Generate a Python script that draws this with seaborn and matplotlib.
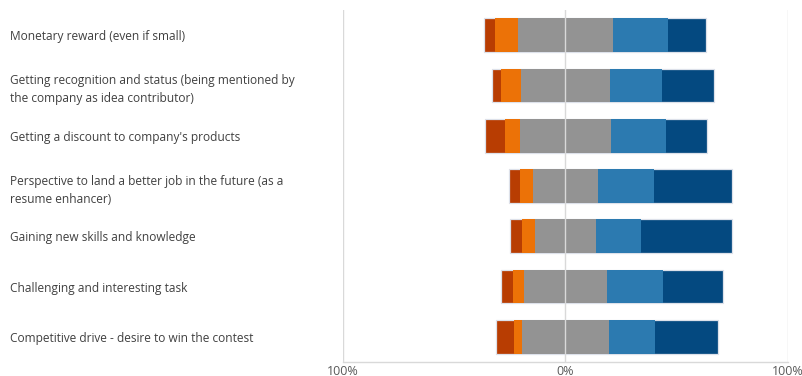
import matplotlib as mpl
mpl.use('Agg')
import matplotlib.pyplot as plt
import numpy as np
import pandas as pd
import seaborn as sns

categories = [
    'Monetary reward (even if small)',
    'Getting recognition and status (being mentioned by\nthe company as idea contributor)',
    "Getting a discount to company's products",
    'Perspective to land a better job in the future (as a\nresume enhancer)',
    'Gaining new skills and knowledge',
    'Challenging and interesting task',
    'Competitive drive - desire to win the contest',
]
strongly_neg = [5.2, 4.1, 8.9, 4.8, 5.4, 5.3, 7.9]
neg = [10.5, 8.9, 6.7, 6.0, 5.5, 4.9, 3.6]
neutral = [42.3, 40.1, 40.9, 28.8, 27.7, 37.3, 39.5]
pos = [25.1, 23.1, 24.6, 25.3, 19.9, 25.3, 20.4]
strongly_pos = [16.8, 23.4, 18.7, 35.2, 41.3, 27.0, 28.3]
tick_values = [-100, 0, 100]
tick_labels = ['100%', '0%', '100%']

colors = {
    'strongly_neg': '#b83d02',
    'neg': '#ec7207',
    'neutral': '#939393',
    'pos': '#2c7ab0',
    'strongly_pos': '#044980',
}

half = np.array(neutral) / 2
df = pd.DataFrame({
    'category': categories,
    'strongly_neg': -(half + np.array(neg) + np.array(strongly_neg)),
    'neg': -(half + np.array(neg)),
    'neutral_l': -half,
    'neutral_r': half,
    'pos': half + np.array(pos),
    'strongly_pos': half + np.array(pos) + np.array(strongly_pos),
})

fig = plt.figure(figsize=(8.03, 3.76), dpi=100)
ax = fig.add_axes([343 / 803, 14 / 376, 445 / 803, 352 / 376])

bw = 0.67
# outer layers first (with light outline), inner layers painted over them
layers = [
    ('strongly_neg', colors['strongly_neg'], '#dde1ea'),
    ('strongly_pos', colors['strongly_pos'], '#dde1ea'),
    ('neg', colors['neg'], 'none'),
    ('pos', colors['pos'], 'none'),
    ('neutral_l', colors['neutral'], 'none'),
    ('neutral_r', colors['neutral'], 'none'),
]
for col, c, ec in layers:
    sns.barplot(data=df, x=col, y='category', order=categories, orient='h',
                color=c, saturation=1, width=bw, edgecolor=ec,
                linewidth=0.9 if ec != 'none' else 0, ax=ax)

for v in tick_values:
    ax.axvline(v, color='#d9d9d9', lw=1, zorder=5)

ax.set_xlim(-100, 100)
ax.set_ylim(6.5, -0.5)
ax.set_xticks(tick_values)
ax.set_xticklabels(tick_labels, fontsize=9, color='#595959', family='Open Sans')
ax.set_yticks(range(len(categories)))
ax.set_yticklabels(categories, ha='left', fontsize=8.6, color='#404040',
                   family='Open Sans', linespacing=1.55)
ax.tick_params(axis='y', length=0, pad=333 * 0.72)
ax.tick_params(axis='x', length=0, pad=2.5)
ax.set_xlabel('')
ax.set_ylabel('')
for s in ['top', 'left', 'right']:
    ax.spines[s].set_visible(False)
ax.spines['bottom'].set_color('#d9d9d9')
ax.spines['bottom'].set_linewidth(1)

fig.savefig('out.png', dpi=100)
plt.clf()
